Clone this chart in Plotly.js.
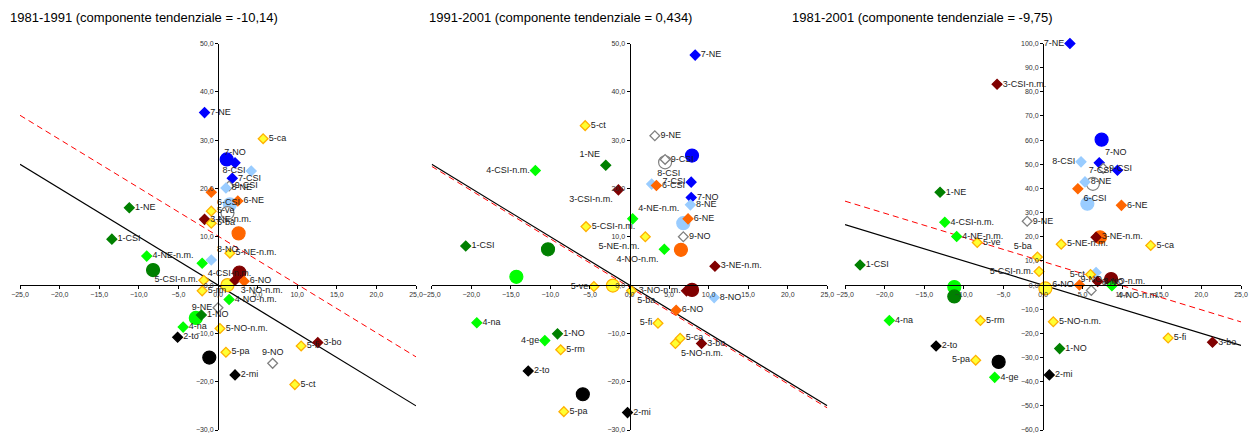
<!DOCTYPE html>
<html>
<head>
<meta charset="utf-8">
<script src="https://cdn.plot.ly/plotly-3.0.1.min.js"></script>
<style>html,body{margin:0;padding:0;background:#fff;}#chart{width:1256px;height:435px;}</style>
</head>
<body>
<div id="chart"></div>
<script>
// ---------- DATA ----------
const periods = ['1981-1991', '1991-2001', '1981-2001'];
const trendValues = [-10.14, 0.434, -9.75];
const trendTexts = ['-10,14', '0,434', '-9,75'];

const p1Labels = ['7-NE','5-ca','7-NO','8-CSI','7-CSI','9-CSI','8-NE','6-CSI','6-NE','1-NE','5-ve','3-NE-n.m.','5-ba','1-CSI','5-NE-n.m.','4-NE-n.m.','8-NO','4-CSI-n.m.','3-NO-n.m.','5-CSI-n.m.','6-NO','5-rm','4-NO-n.m.','9-NE','1-NO','4-na','5-NO-n.m.','2-to','3-bo','5-fi','5-pa','9-NO','2-mi','5-ct'];
const p1X = [-1.7,5.7,2.15,4.2,1.8,1.4,1.0,-0.85,2.5,-11.2,-0.85,-1.7,-0.85,-13.4,1.5,-9.0,-0.85,-2.0,2.15,-1.8,3.3,-2.0,1.4,0.0,-2.1,-4.4,0.25,-5.1,12.6,10.5,1.0,6.9,2.15,9.7];
const p1Y = [35.7,30.3,25.3,23.6,22.1,20.5,20.1,19.2,17.4,16.0,15.3,13.6,12.8,9.5,6.6,6.0,5.2,4.5,1.0,1.0,0.8,-1.2,-3.0,-4.7,-6.2,-8.7,-9.0,-10.8,-11.9,-12.6,-13.9,-16.2,-18.6,-20.6];
const p1CircleSectors = [7,8,9,6,1,3,5,4,2];
const p1CircleX = [1.1,1.5,1.2,2.6,-8.2,2.7,1.2,-2.8,-1.1];
const p1CircleY = [26.0,16.7,14.9,10.7,3.1,2.6,0.0,-6.8,-15.0];

const p2Labels = ['7-NE','5-ct','9-NE','9-CSI','1-NE','4-CSI-n.m.','7-CSI','8-CSI','6-CSI','3-CSI-n.m.','7-NO','8-NE','6-NE','4-NE-n.m.','5-CSI-n.m.','5-NE-n.m.','9-NO','1-CSI','4-NO-n.m.','3-NE-n.m.','5-ve','5-ba','3-NO-n.m.','8-NO','6-NO','5-fi','4-na','1-NO','5-ca','4-ge','5-NO-n.m.','3-bo','5-rm','2-to','5-pa','2-mi'];
const p2X = [8.3,-5.6,3.2,4.5,-3.0,-11.9,7.8,2.8,3.4,-1.4,7.8,7.7,7.4,0.4,-5.5,2.0,6.8,-20.7,4.4,10.8,-4.5,0.25,7.2,10.7,5.9,3.6,-19.3,-9.1,6.4,-10.7,5.8,9.1,-8.7,-12.8,-8.3,-0.25];
const p2Y = [47.6,33.0,30.9,26.0,24.8,23.7,21.3,20.9,20.6,19.7,18.1,16.6,13.7,13.7,12.1,10.0,10.0,8.1,7.4,3.9,-0.3,-1.2,-1.2,-2.6,-5.2,-7.9,-7.8,-10.1,-11.0,-11.5,-12.1,-12.1,-13.4,-17.8,-26.2,-26.4];
const p2CircleSectors = [7,9,8,1,6,4,5,3,2];
const p2CircleX = [7.9,4.5,6.8,-10.3,6.5,-14.3,-2.1,7.9,-5.9];
const p2CircleY = [26.8,25.4,12.8,7.4,7.3,1.7,-0.1,-1.0,-22.6];

const p3Labels = ['7-NE','3-CSI-n.m.','8-CSI','7-NO','9-CSI','7-CSI','8-NE','6-CSI','1-NE','6-NE','9-NE','4-CSI-n.m.','4-NE-n.m.','3-NE-n.m.','5-ve','5-NE-n.m.','5-ca','5-ba','1-CSI','5-CSI-n.m.','8-NO','5-ct','3-NO-n.m.','6-NO','4-NO-n.m.','9-NO','4-na','5-rm','5-NO-n.m.','5-fi','3-bo','2-to','1-NO','5-pa','2-mi','4-ge'];
const p3X = [3.4,-5.8,4.8,7.1,7.6,9.4,5.3,4.4,-13.0,9.9,-2.0,-12.4,-10.9,6.7,-8.3,2.3,13.6,-0.7,-23.1,-0.5,6.7,6.0,6.9,4.6,8.7,6.1,-19.4,-7.9,1.3,15.8,21.4,-13.5,2.1,-8.5,0.8,-6.1];
const p3Y = [100.0,83.1,51.0,50.6,48.3,47.5,42.7,39.9,38.4,33.0,26.4,26.0,20.1,19.8,17.6,16.9,16.4,11.6,8.3,5.6,5.2,4.4,1.5,0.0,-0.3,-2.2,-14.7,-14.7,-15.2,-21.9,-23.7,-25.2,-26.3,-31.1,-37.2,-38.2];
const p3CircleSectors = [7,9,8,6,3,5,4,1,2];
const p3CircleX = [7.4,6.3,5.6,7.2,8.6,0.3,-11.2,-11.2,-5.6];
const p3CircleY = [60.2,41.9,33.7,19.8,2.5,-1.4,-0.8,-4.7,-31.8];

const xTickRange = [-25, 25];
const yTickRanges = [[-30, 50], [-30, 50], [-60, 100]];

// ---------- STYLE ----------
const W = 1256, H = 435;
const sectorFill = {1:'#008000',2:'#000000',3:'#800000',4:'#00FF00',5:'#FFFF33',6:'#FF6600',7:'#0000FF',8:'#99CCFF',9:'#FFFFFF'};
const sectorLine = {1:'#008000',2:'#000000',3:'#800000',4:'#00FF00',5:'#FFB000',6:'#FF6600',7:'#0000FF',8:'#99CCFF',9:'#808080'};
const labelPos = [
  {'8-CSI':'middle left','7-NO':'top center','6-CSI':'bottom right','8-NO':'top right','4-CSI-n.m.':'bottom right','5-CSI-n.m.':'middle left','3-NO-n.m.':'bottom right','9-NE':'middle left','9-NO':'top center'},
  {'1-NE':'top left','4-CSI-n.m.':'middle left','8-CSI':'top right','7-CSI':'middle left','3-CSI-n.m.':'bottom left','4-NE-n.m.':'top right','5-NE-n.m.':'bottom left','4-NO-n.m.':'bottom left','5-ve':'middle left','5-ba':'bottom right','3-NO-n.m.':'middle left','5-fi':'middle left','4-ge':'middle left','5-NO-n.m.':'bottom right'},
  {'7-NE':'middle left','8-CSI':'middle left','7-NO':'top right','7-CSI':'middle left','6-CSI':'bottom right','5-ba':'top left','5-CSI-n.m.':'middle left','5-ct':'middle left','8-NO':'bottom right','6-NO':'middle left','4-NO-n.m.':'bottom right','9-NO':'top center','5-pa':'middle left'}
];
const xDomPx = [[20,416],[431.7,827.3],[845,1241]];
const yDomPx = [43.5, 430];
const titleX = [8, 427, 790];
const fontFam = 'Liberation Sans, Arial, sans-serif';

const panels = [
  {labels:p1Labels,x:p1X,y:p1Y,cs:p1CircleSectors,cx:p1CircleX,cy:p1CircleY},
  {labels:p2Labels,x:p2X,y:p2Y,cs:p2CircleSectors,cx:p2CircleX,cy:p2CircleY},
  {labels:p3Labels,x:p3X,y:p3Y,cs:p3CircleSectors,cx:p3CircleX,cy:p3CircleY}
];

const traces = [];
const layout = {
  width: W, height: H, margin:{l:0,r:0,t:0,b:0},
  paper_bgcolor:'#fff', plot_bgcolor:'rgba(0,0,0,0)',
  showlegend:false, separators:',.',
  font:{family:fontFam, color:'#000'},
  annotations:[]
};
const yDom = [(H - yDomPx[1]) / H, (H - yDomPx[0]) / H];

panels.forEach((p, i) => {
  const n = i === 0 ? '' : String(i + 1);
  const xa = 'x' + n, ya = 'y' + n;
  const xDom = [xDomPx[i][0] / W, xDomPx[i][1] / W];
  const yr = yTickRanges[i];
  const xr = xTickRange;
  const xPos0 = xDom[0] + (0 - xr[0]) / (xr[1] - xr[0]) * (xDom[1] - xDom[0]);
  const yPos0 = yDom[0] + (0 - yr[0]) / (yr[1] - yr[0]) * (yDom[1] - yDom[0]);
  const axCommon = {showgrid:false, zeroline:false, showline:true, linecolor:'#000', linewidth:1,
    ticks:'outside', ticklen:3, tickcolor:'#000', tickformat:'.1f',
    tickfont:{size:7, color:'#333', family:fontFam}, fixedrange:true, anchor:'free'};
  layout['xaxis' + n] = Object.assign({}, axCommon, {domain:xDom, range:xr, dtick:5, tick0:0, position:yPos0});
  layout['yaxis' + n] = Object.assign({}, axCommon, {domain:yDom, range:yr, dtick:10, tick0:0, position:xPos0});

  // reference lines: y = -x (black) and shifted by trend component (red dashed)
  const c = -trendValues[i];
  traces.push({type:'scatter', mode:'lines', x:[xr[0], xr[1]], y:[-xr[0] + c, -xr[1] + c],
    xaxis:xa, yaxis:ya, line:{color:'#FF0000', width:1, dash:'6px,4px'}, hoverinfo:'skip', cliponaxis:true});
  traces.push({type:'scatter', mode:'lines', x:[xr[0], xr[1]], y:[-xr[0], -xr[1]],
    xaxis:xa, yaxis:ya, line:{color:'#000', width:1.2}, hoverinfo:'skip', cliponaxis:true});

  // sector aggregate circles
  traces.push({type:'scatter', mode:'markers', x:p.cx, y:p.cy, xaxis:xa, yaxis:ya,
    marker:{symbol:'circle', size:13,
      color:p.cs.map(s => sectorFill[s]),
      line:{color:p.cs.map(s => sectorLine[s]), width:1.2}}, hoverinfo:'skip', cliponaxis:false});

  // labelled diamonds
  const sec = p.labels.map(l => parseInt(l.charAt(0), 10));
  traces.push({type:'scatter', mode:'markers+text', x:p.x, y:p.y, text:p.labels,
    textposition:p.labels.map(l => labelPos[i][l] || 'middle right'),
    textfont:{size:9, color:'#1a1a1a', family:fontFam},
    xaxis:xa, yaxis:ya,
    marker:{symbol:'diamond', size:7.5,
      color:sec.map(s => sectorFill[s]),
      line:{color:sec.map(s => sectorLine[s]), width:1.3}}, hoverinfo:'skip', cliponaxis:false});

  layout.annotations.push({xref:'paper', yref:'paper', x:titleX[i] / W, y:(H - 18) / H,
    xanchor:'left', yanchor:'middle', showarrow:false,
    text: periods[i] + ' (componente tendenziale = ' + trendTexts[i] + ')',
    font:{size:13, color:'#000', family:fontFam}});
});

Plotly.newPlot('chart', traces, layout, {displayModeBar:false, staticPlot:true});
</script>
</body>
</html>
